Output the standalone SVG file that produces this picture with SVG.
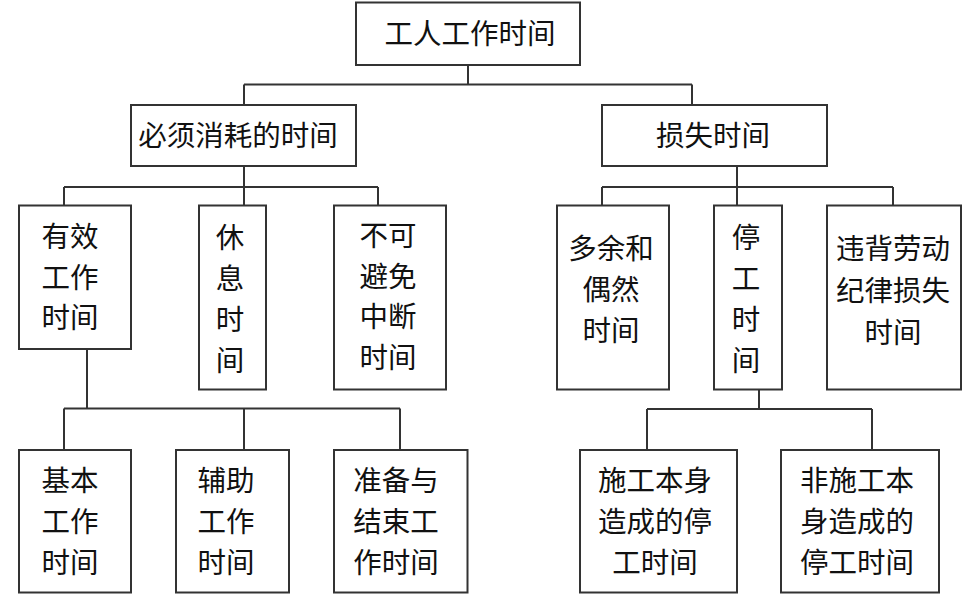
<svg xmlns="http://www.w3.org/2000/svg" width="972" height="607" viewBox="0 0 972 607">
<style>
.box{fill:#fff;stroke:#333;stroke-width:2}
.ln{fill:none;stroke:#333;stroke-width:2}
text{font-family:"Noto Sans CJK SC","Noto Sans",sans-serif;font-size:28.5px;fill:#111;text-anchor:middle}
</style>
<rect width="972" height="607" fill="#fff"/>
<g id="connectors" class="ln">
<path d="M468 65V84.5M244 84.5H692M244 84.5V105M692 84.5V105"/>
<path d="M244 166V205.5M64 187H378M64 187V205.5M378 187V205.5"/>
<path d="M737 166V205.5M602 187H893M602 187V205.5M893 187V205.5"/>
<path d="M87 349V408.5M64 408.5H400M64 408.5V450M244 408.5V450M400 408.5V450"/>
<path d="M759 389.5V409M647 409H872M647 409V450M872 409V450"/>
</g>
<g id="n_top"><rect class="box" x="356" y="2.5" width="224" height="62.5"/><text x="470" y="43.5">工人工作时间</text></g>
<g id="n_nec"><rect class="box" x="131" y="105" width="225" height="61"/><text x="238" y="146">必须消耗的时间</text></g>
<g id="n_loss"><rect class="box" x="602" y="105" width="225" height="61"/><text x="713" y="146">损失时间</text></g>
<g id="n_yx"><rect class="box" x="19" y="205.5" width="112" height="143.5"/><text x="70" y="247">有效</text><text x="70" y="287.5">工作</text><text x="70" y="328">时间</text></g>
<g id="n_xx"><rect class="box" x="199" y="205.5" width="67" height="184"/><text x="230" y="248">休</text><text x="230" y="289">息</text><text x="230" y="330">时</text><text x="230" y="371">间</text></g>
<g id="n_bk"><rect class="box" x="334" y="205.5" width="112" height="184"/><text x="388" y="246">不可</text><text x="388" y="286.5">避免</text><text x="388" y="327">中断</text><text x="388" y="367.5">时间</text></g>
<g id="n_dy"><rect class="box" x="557" y="205.5" width="112" height="184"/><text x="611" y="258.5">多余和</text><text x="611" y="299.5">偶然</text><text x="611" y="340.5">时间</text></g>
<g id="n_tg"><rect class="box" x="714" y="205.5" width="68" height="184"/><text x="746" y="248">停</text><text x="746" y="289">工</text><text x="746" y="330">时</text><text x="746" y="371">间</text></g>
<g id="n_wb"><rect class="box" x="827" y="205.5" width="134" height="184"/><text x="893" y="259">违背劳动</text><text x="893" y="301">纪律损失</text><text x="893" y="343">时间</text></g>
<g id="n_jb"><rect class="box" x="19" y="450" width="112" height="142.5"/><text x="70" y="491">基本</text><text x="70" y="532">工作</text><text x="70" y="573">时间</text></g>
<g id="n_fz"><rect class="box" x="176" y="450" width="113" height="142.5"/><text x="226" y="491">辅助</text><text x="226" y="532">工作</text><text x="226" y="573">时间</text></g>
<g id="n_zb"><rect class="box" x="334" y="450" width="133.5" height="142.5"/><text x="396" y="491">准备与</text><text x="396" y="532">结束工</text><text x="396" y="573">作时间</text></g>
<g id="n_sg"><rect class="box" x="580" y="450" width="157" height="142.5"/><text x="655" y="491">施工本身</text><text x="655" y="532">造成的停</text><text x="655" y="573">工时间</text></g>
<g id="n_fs"><rect class="box" x="781" y="450" width="158" height="142.5"/><text x="857" y="491">非施工本</text><text x="857" y="532">身造成的</text><text x="857" y="573">停工时间</text></g>
</svg>
